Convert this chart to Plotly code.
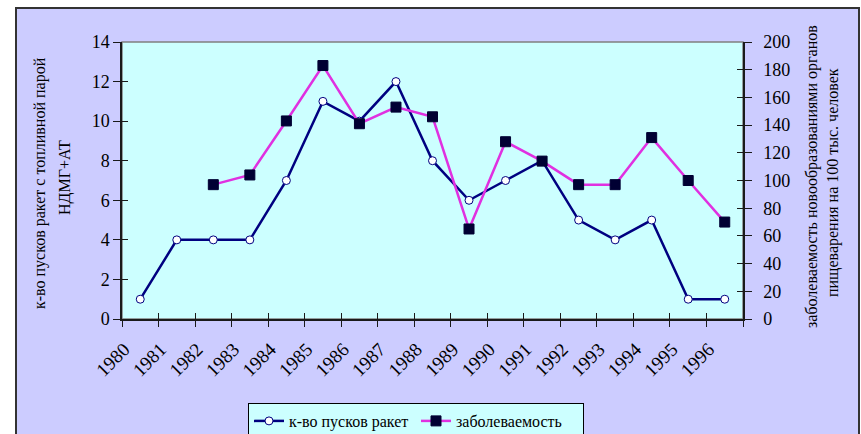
import plotly.graph_objects as go

years = [str(y) for y in range(1980, 1997)]
launches = [1, 4, 4, 4, 7, 11, 10, 12, 8, 6, 7, 8, 5, 4, 5, 1, 1]
incidence = [None, None, 97, 104, 143, 183, 141, 153, 146, 65, 128, 114, 97, 97, 131, 100, 70]

name_launches = "к-во пусков ракет"
name_incidence = "заболеваемость"
left_title_1 = "к-во пусков ракет с топливной парой"
left_title_2 = "НДМГ+АТ"
right_title_1 = "заболеваемость новообразованиями органов"
right_title_2 = "пищеварения на 100 тыс. человек"

W, H = 861, 434
FONT = "Liberation Serif, Times New Roman, serif"

def px(x):
    return x / W

def py(y):
    return 1 - y / H

x0, x1 = px(122), px(743)
y0, y1 = py(319), py(42)

fig = go.Figure()

fig.add_trace(go.Scatter(
    x=years, y=launches, name=name_launches, mode="lines+markers",
    line=dict(color="#000080", width=2.5),
    marker=dict(symbol="circle", size=8, color="white", line=dict(color="#000080", width=1)),
    xaxis="x", yaxis="y",
))
fig.add_trace(go.Scatter(
    x=years, y=incidence, name=name_incidence, mode="lines+markers",
    line=dict(color="#E030E0", width=2.5),
    marker=dict(symbol="square", size=10, color="#000033", line=dict(color="#000033", width=1)),
    xaxis="x", yaxis="y2",
))
# dummy traces so the tick-overlay axes are rendered
for xa, ya in [("x2", "y"), ("x", "y3"), ("x", "y4")]:
    fig.add_trace(go.Scatter(x=[years[0]], y=[None], xaxis=xa, yaxis=ya,
                             showlegend=False, hoverinfo="skip", mode="lines"))

tickfont = dict(family=FONT, size=18, color="#000000")
xtickfont = dict(family=FONT, size=19, color="#000000")
axcol = "#1a1a1a"
tfont = dict(family=FONT, size=16, color="#000000")

def vtitle(text, x, y):
    return dict(text=text, xref="paper", yref="paper", x=px(x), y=py(y),
                xanchor="center", yanchor="middle", textangle=-90, showarrow=False,
                font=tfont)

fig.update_layout(
    width=W, height=H,
    margin=dict(l=0, r=0, t=0, b=0, autoexpand=False),
    paper_bgcolor="white",
    plot_bgcolor="rgba(0,0,0,0)",
    font=dict(family=FONT, color="#000000"),
    showlegend=True,
    legend=dict(
        orientation="h", x=px(248), y=py(403), xanchor="left", yanchor="top",
        bgcolor="#CCFFFF", bordercolor="#000000", borderwidth=1,
        font=dict(family=FONT, size=16, color="#000000"),
        entrywidth=122, entrywidthmode="pixels", tracegroupgap=0,
    ),
    xaxis=dict(
        domain=[x0, x1], type="category", categoryorder="array", categoryarray=years,
        range=[-0.5, 16.5], anchor="y", automargin=False,
        showline=True, linecolor=axcol, linewidth=1.5,
        ticks="outside", ticklen=6, tickcolor=axcol, tickwidth=1,
        tickson="boundaries", tickangle=-45, tickfont=xtickfont,
        ticklabelstandoff=10, ticklabelshift=-16,
        showgrid=False, zeroline=False, fixedrange=True,
    ),
    xaxis2=dict(
        domain=[x0, x1], type="category", categoryorder="array", categoryarray=years,
        range=[-0.5, 16.5], overlaying="x", anchor="y", automargin=False,
        showline=False, ticks="inside", ticklen=6, tickcolor=axcol, tickwidth=1,
        tickson="boundaries", showticklabels=False, showgrid=False, zeroline=False,
    ),
    yaxis=dict(
        domain=[y0, y1], range=[0, 14], dtick=2, tick0=0, anchor="x", automargin=False,
        showline=True, linecolor=axcol, linewidth=1.5,
        ticks="outside", ticklen=7, tickcolor=axcol, tickwidth=1,
        tickfont=tickfont, showgrid=False, zeroline=False,
    ),
    yaxis3=dict(
        domain=[y0, y1], range=[0, 14], dtick=2, tick0=0, overlaying="y", anchor="x",
        automargin=False,
        showline=False, ticks="inside", ticklen=6, tickcolor=axcol, tickwidth=1,
        showticklabels=False, showgrid=False, zeroline=False,
    ),
    yaxis2=dict(
        domain=[y0, y1], range=[0, 200], dtick=20, tick0=0, overlaying="y", anchor="x",
        automargin=False,
        side="right", showline=True, linecolor=axcol, linewidth=1.5,
        ticks="outside", ticklen=7, tickcolor=axcol, tickwidth=1,
        tickfont=tickfont, ticklabelstandoff=8, showgrid=False, zeroline=False,
    ),
    yaxis4=dict(
        domain=[y0, y1], range=[0, 200], dtick=20, tick0=0, overlaying="y", anchor="x",
        automargin=False,
        side="right", showline=False, ticks="inside", ticklen=6, tickcolor=axcol,
        tickwidth=1, showticklabels=False, showgrid=False, zeroline=False,
    ),
    shapes=[
        dict(type="rect", xref="paper", yref="paper", layer="below",
             x0=px(16), x1=px(859), y0=-0.05, y1=py(8),
             fillcolor="#CCCCFF", line=dict(color="#333333", width=2)),
        dict(type="rect", xref="paper", yref="paper", layer="below",
             x0=x0, x1=x1, y0=y0, y1=y1,
             fillcolor="#CCFFFF", line=dict(color="#808080", width=1.5)),
    ],
    annotations=[
        vtitle(left_title_1, 40, 183),
        vtitle(left_title_2, 65, 178),
        vtitle(right_title_1, 812, 177),
        vtitle(right_title_2, 833, 183),
    ],
)

fig.write_html("out.html", config={"displayModeBar": False},
               post_script="document.body.style.margin='0px';")
